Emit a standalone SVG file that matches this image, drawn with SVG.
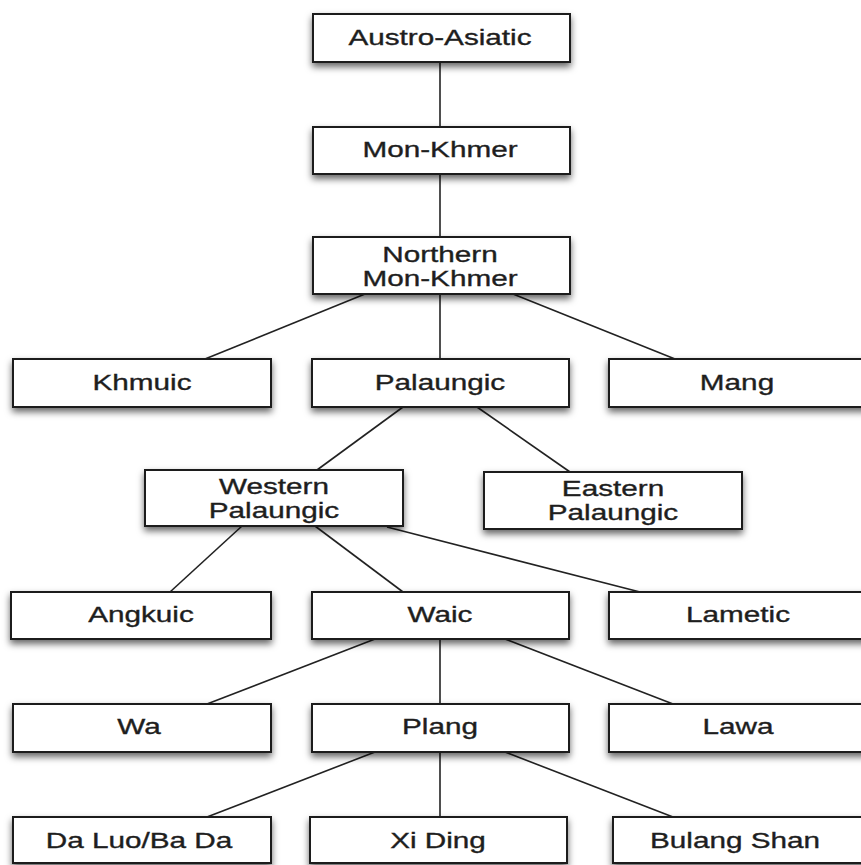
<svg xmlns="http://www.w3.org/2000/svg" width="861" height="865" viewBox="0 0 861 865">
<defs>
<filter id="sh" x="-10%" y="-20%" width="120%" height="160%">
<feDropShadow dx="0" dy="4" stdDeviation="3.5" flood-color="#000" flood-opacity="0.6"/>
</filter>
</defs>
<style>
.box{fill:#fff;stroke:#1a1a1a;stroke-width:2;filter:url(#sh)}
.lbl{font-family:"Liberation Sans",Arial,sans-serif;font-size:22px;fill:#1e1e1e;stroke:#1e1e1e;stroke-width:0.35;text-anchor:middle}
.edge{stroke:#222;stroke-width:1.6;fill:none}
</style>
<rect width="861" height="865" fill="#fff"/>
<g id="connectors">
<line class="edge" x1="440" y1="62" x2="440" y2="127"/>
<line class="edge" x1="440" y1="174" x2="440" y2="237"/>
<line class="edge" x1="365" y1="294" x2="205" y2="359"/>
<line class="edge" x1="440" y1="294" x2="440" y2="359"/>
<line class="edge" x1="513" y1="294" x2="675" y2="359"/>
<line class="edge" x1="403" y1="407" x2="317" y2="470"/>
<line class="edge" x1="477" y1="407" x2="570" y2="472"/>
<line class="edge" x1="242" y1="526" x2="170" y2="592"/>
<line class="edge" x1="315" y1="526" x2="403" y2="592"/>
<line class="edge" x1="387" y1="527" x2="640" y2="592"/>
<line class="edge" x1="375" y1="639" x2="207" y2="704"/>
<line class="edge" x1="440" y1="639" x2="440" y2="704"/>
<line class="edge" x1="505" y1="639" x2="673" y2="704"/>
<line class="edge" x1="375" y1="752" x2="207" y2="817"/>
<line class="edge" x1="440" y1="752" x2="440" y2="817"/>
<line class="edge" x1="505" y1="752" x2="673" y2="817"/>
</g>
<g id="austro-asiatic"><rect class="box" x="313" y="14" width="257" height="48"/><text class="lbl" transform="translate(440,45) scale(1.35,1)">Austro-Asiatic</text></g>
<g id="mon-khmer"><rect class="box" x="313" y="127" width="257" height="47"/><text class="lbl" transform="translate(440,157) scale(1.35,1)">Mon-Khmer</text></g>
<g id="northern-mon-khmer"><rect class="box" x="313" y="237" width="257" height="57"/><text class="lbl" transform="translate(440,262) scale(1.35,1)">Northern</text><text class="lbl" transform="translate(440,286) scale(1.35,1)">Mon-Khmer</text></g>
<g id="khmuic"><rect class="box" x="13" y="359" width="258" height="48"/><text class="lbl" transform="translate(142,390) scale(1.35,1)">Khmuic</text></g>
<g id="palaungic"><rect class="box" x="312" y="359" width="257" height="48"/><text class="lbl" transform="translate(440,390) scale(1.35,1)">Palaungic</text></g>
<g id="mang"><rect class="box" x="609" y="359" width="262" height="48"/><text class="lbl" transform="translate(737,390) scale(1.35,1)">Mang</text></g>
<g id="western-palaungic"><rect class="box" x="145" y="470" width="258" height="56"/><text class="lbl" transform="translate(274,494) scale(1.35,1)">Western</text><text class="lbl" transform="translate(274,518) scale(1.35,1)">Palaungic</text></g>
<g id="eastern-palaungic"><rect class="box" x="484" y="472" width="258" height="57"/><text class="lbl" transform="translate(613,496) scale(1.35,1)">Eastern</text><text class="lbl" transform="translate(613,520) scale(1.35,1)">Palaungic</text></g>
<g id="angkuic"><rect class="box" x="11" y="592" width="260" height="47"/><text class="lbl" transform="translate(141,622) scale(1.35,1)">Angkuic</text></g>
<g id="waic"><rect class="box" x="312" y="592" width="257" height="47"/><text class="lbl" transform="translate(440,622) scale(1.35,1)">Waic</text></g>
<g id="lametic"><rect class="box" x="609" y="592" width="262" height="47"/><text class="lbl" transform="translate(738,622) scale(1.35,1)">Lametic</text></g>
<g id="wa"><rect class="box" x="13" y="704" width="258" height="48"/><text class="lbl" transform="translate(139,734) scale(1.35,1)">Wa</text></g>
<g id="plang"><rect class="box" x="312" y="704" width="257" height="48"/><text class="lbl" transform="translate(440,734) scale(1.35,1)">Plang</text></g>
<g id="lawa"><rect class="box" x="609" y="704" width="262" height="48"/><text class="lbl" transform="translate(738,734) scale(1.35,1)">Lawa</text></g>
<g id="da-luo-ba-da"><rect class="box" x="13" y="817" width="258" height="46"/><text class="lbl" transform="translate(139,848) scale(1.35,1)">Da Luo/Ba Da</text></g>
<g id="xi-ding"><rect class="box" x="310" y="817" width="257" height="46"/><text class="lbl" transform="translate(438,848) scale(1.35,1)">Xi Ding</text></g>
<g id="bulang-shan"><rect class="box" x="613" y="817" width="258" height="46"/><text class="lbl" transform="translate(735,848) scale(1.35,1)">Bulang Shan</text></g>
</svg>
